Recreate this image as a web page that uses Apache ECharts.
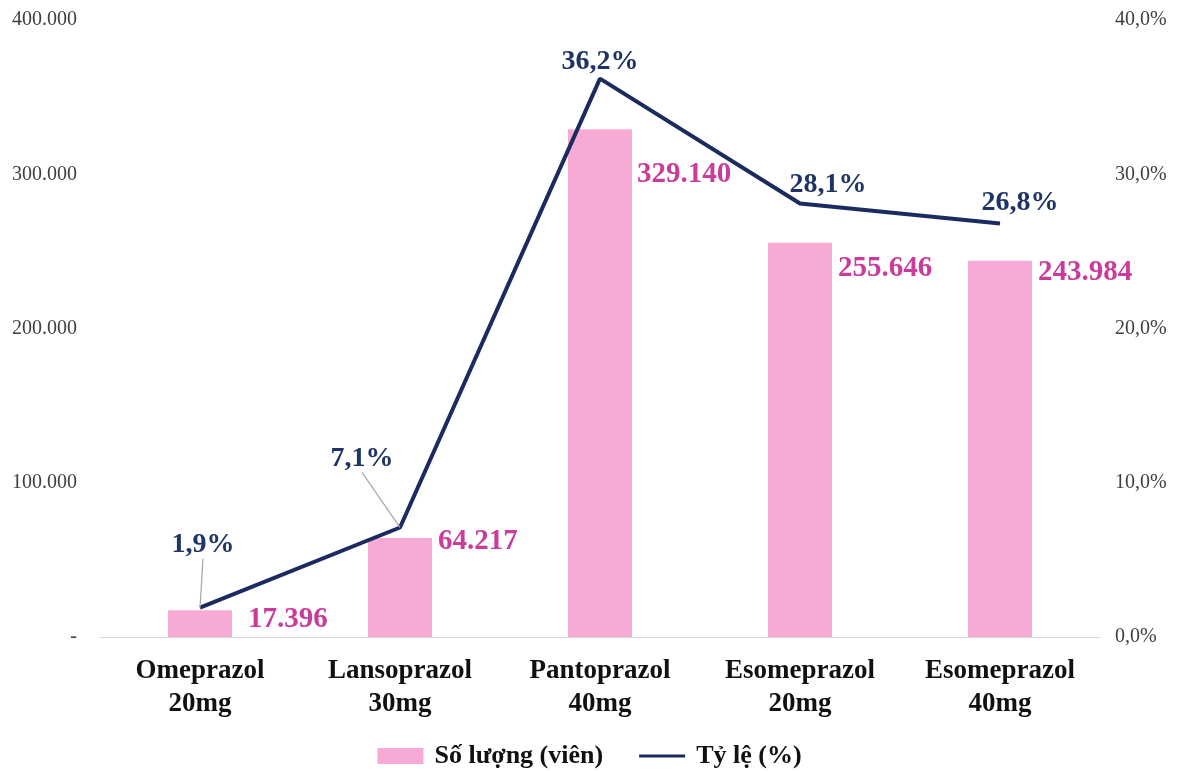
<!DOCTYPE html>
<html>
<head>
<meta charset="utf-8">
<script src="https://cdn.jsdelivr.net/npm/echarts@6/dist/echarts.min.js"></script>
<style>
html, body { margin: 0; padding: 0; background: #fff; }
#chart { width: 1179px; height: 771px; }
</style>
</head>
<body>
<div id="chart"></div>
<script>
const categories = ['Omeprazol\n20mg', 'Lansoprazol\n30mg', 'Pantoprazol\n40mg', 'Esomeprazol\n20mg', 'Esomeprazol\n40mg']
const quantity = [17396, 64217, 329140, 255646, 243984]
const ratio = [1.9, 7.1, 36.2, 28.1, 26.8]
const leftTicks = { min: 0, max: 400000, interval: 100000 }
const rightTicks = { min: 0, max: 40, interval: 10 }

// label nudges (dx, dy) as placed by hand in the original
const barLabelShift = [[16, 9], [6, 4], [5, 45], [6, 26], [6, 12]]
const lineLabelShift = [[3, -46], [-38, -52], [0, 0], [28, -2], [20, -4]]
const lineLeader = [true, true, false, false, false]

const serif = "'Liberation Serif', 'Times New Roman', serif"
const fmtThousands = v => String(Math.round(v)).replace(/\B(?=(\d{3})+(?!\d))/g, '.')
const fmtPct = v => v.toFixed(1).replace('.', ',') + '%'

const chart = echarts.init(document.getElementById('chart'))

const option = {
  animation: false,
  grid: { left: 100, right: 79, top: 20, bottom: 134 },
  legend: {
    left: 'center',
    top: 738,
    itemWidth: 46,
    itemHeight: 16,
    itemGap: 36,
    textStyle: { fontFamily: serif, fontWeight: 'bold', fontSize: 26, color: '#111', padding: [0, 0, 0, 6] },
    data: [
      { name: 'Số lượng (viên)', icon: 'rect' },
      { name: 'Tỷ lệ (%)', icon: 'path://M0,0M0,6.5L46,6.5L46,9.5L0,9.5ZM46,16' }
    ]
  },
  xAxis: {
    type: 'category',
    data: categories,
    axisLine: { lineStyle: { color: '#d6d6d6', width: 1 } },
    axisTick: { show: false },
    axisLabel: {
      interval: 0,
      margin: 18,
      fontFamily: serif,
      fontWeight: 'bold',
      fontSize: 27,
      lineHeight: 33,
      color: '#111'
    }
  },
  yAxis: [
    {
      type: 'value',
      min: leftTicks.min,
      max: leftTicks.max,
      interval: leftTicks.interval,
      splitLine: { show: false },
      axisLine: { show: false },
      axisTick: { show: false },
      axisLabel: {
        margin: 23,
        fontFamily: serif,
        fontSize: 20,
        color: '#404040',
        formatter: v => (v === 0 ? '-' : fmtThousands(v))
      }
    },
    {
      type: 'value',
      min: rightTicks.min,
      max: rightTicks.max,
      interval: rightTicks.interval,
      splitLine: { show: false },
      axisLine: { show: false },
      axisTick: { show: false },
      axisLabel: {
        margin: 15,
        fontFamily: serif,
        fontSize: 20,
        color: '#404040',
        formatter: v => fmtPct(v)
      }
    }
  ],
  series: [
    {
      name: 'Số lượng (viên)',
      type: 'bar',
      data: quantity,
      barWidth: 64,
      itemStyle: { color: '#f7abd4' },
      label: {
        show: true,
        position: ['100%', 0],
        align: 'left',
        verticalAlign: 'middle',
        fontFamily: serif,
        fontWeight: 'bold',
        fontSize: 29,
        color: '#c93c9b',
        formatter: p => fmtThousands(p.value)
      },
      labelLayout: p => ({ dx: barLabelShift[p.dataIndex][0], dy: barLabelShift[p.dataIndex][1] })
    },
    {
      name: 'Tỷ lệ (%)',
      type: 'line',
      yAxisIndex: 1,
      data: ratio.map((v, i) => ({ value: v, labelLine: { show: lineLeader[i] } })),
      symbol: 'circle',
      symbolSize: 0.1,
      lineStyle: { color: '#1b2a5f', width: 4 },
      itemStyle: { color: '#1b2a5f' },
      label: {
        show: true,
        position: 'top',
        distance: 3,
        fontFamily: serif,
        fontWeight: 'bold',
        fontSize: 28,
        color: '#1f3466',
        formatter: p => fmtPct(p.value)
      },
      labelLine: { show: false, lineStyle: { color: '#a6a6a6', width: 1.2 } },
      labelLayout: p => ({ dx: lineLabelShift[p.dataIndex][0], dy: lineLabelShift[p.dataIndex][1] })
    }
  ]
}

chart.setOption(option, true)
</script>
</body>
</html>
